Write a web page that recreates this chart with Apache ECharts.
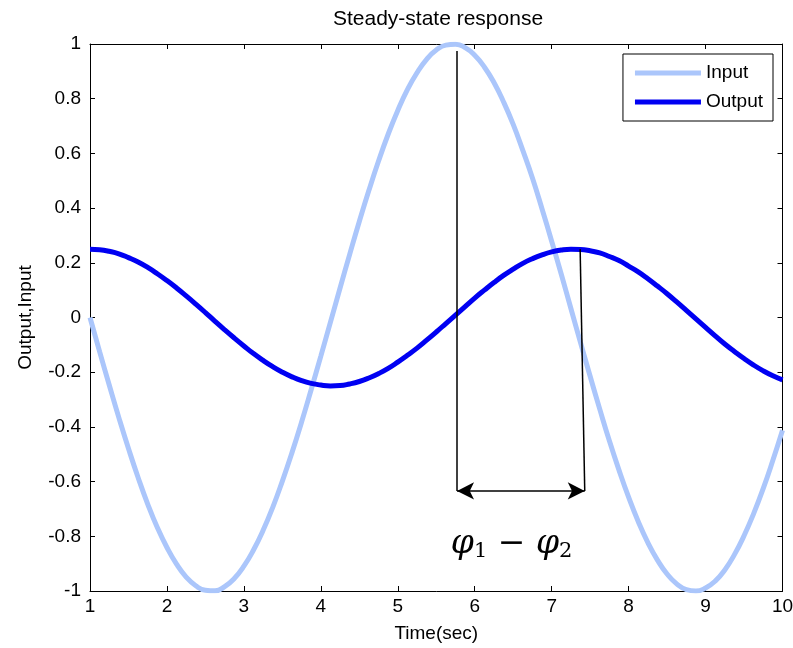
<!DOCTYPE html>
<html>
    <head>
        <meta charset="utf-8" />
        <script src="https://cdn.jsdelivr.net/npm/echarts@6/dist/echarts.min.js"></script>
    </head>
    <body style="margin: 0">
        <style>
            html,
            body,
            #main {
                width: 793px;
                height: 648px;
                background: #fff;
            }
        </style>
        <div id="main"></div>
        <script>
            // time samples (sec)
            var times = [
                1, 1.125, 1.25, 1.375, 1.5, 1.625, 1.75, 1.875,
                2, 2.125, 2.25, 2.375, 2.5, 2.625, 2.75, 2.875,
                3, 3.125, 3.25, 3.375, 3.5, 3.625, 3.75, 3.875,
                4, 4.125, 4.25, 4.375, 4.5, 4.625, 4.75, 4.875,
                5, 5.125, 5.25, 5.375, 5.5, 5.625, 5.75, 5.875,
                6, 6.125, 6.25, 6.375, 6.5, 6.625, 6.75, 6.875,
                7, 7.125, 7.25, 7.375, 7.5, 7.625, 7.75, 7.875,
                8, 8.125, 8.25, 8.375, 8.5, 8.625, 8.75, 8.875,
                9, 9.125, 9.25, 9.375, 9.5, 9.625, 9.75, 9.875, 10
            ];
            var inputValues = [
                0, -0.125, -0.247, -0.366, -0.479, -0.585, -0.682, -0.768,
                -0.841, -0.902, -0.949, -0.981, -0.997, -0.999, -0.984, -0.954,
                -0.909, -0.85, -0.778, -0.694, -0.598, -0.494, -0.382, -0.263,
                -0.141, -0.017, 0.108, 0.231, 0.351, 0.465, 0.572, 0.67,
                0.757, 0.833, 0.895, 0.944, 0.978, 0.996, 0.999, 0.987,
                0.959, 0.916, 0.859, 0.788, 0.706, 0.611, 0.51, 0.397,
                0.279, 0.158, 0.033, -0.092, -0.215, -0.335, -0.451, -0.558,
                -0.657, -0.746, -0.823, -0.887, -0.938, -0.974, -0.995, -1.0,
                -0.989, -0.964, -0.923, -0.867, -0.798, -0.717, -0.625, -0.522, -0.412
            ];
            var outputValues = [
                0.25, 0.248, 0.242, 0.233, 0.219, 0.203, 0.183, 0.16,
                0.135, 0.108, 0.079, 0.049, 0.018, -0.014, -0.045, -0.075,
                -0.104, -0.132, -0.157, -0.18, -0.2, -0.217, -0.231, -0.241,
                -0.247, -0.25, -0.249, -0.243, -0.234, -0.221, -0.205, -0.186,
                -0.163, -0.138, -0.112, -0.083, -0.053, -0.022, 0.009, 0.04,
                0.071, 0.1, 0.128, 0.154, 0.177, 0.198, 0.215, 0.229,
                0.24, 0.247, 0.25, 0.249, 0.244, 0.236, 0.223, 0.208,
                0.188, 0.167, 0.142, 0.115, 0.087, 0.057, 0.026, -0.005,
                -0.036, -0.067, -0.097, -0.124, -0.15, -0.174, -0.195, -0.213, -0.228
            ];
            // phase annotation (data coords)
            var phaseStart = [5.77, 0.974];
            var phaseEnd = [7.37, 0.25];
            var arrowY = -0.634;
            var arrowX = [5.77, 7.43];
            var phaseText = [6.48, -0.83];

            function pairs(xs, ys) {
                var out = [];
                for (var i = 0; i < xs.length; i++) {
                    out.push([xs[i], ys[i]]);
                }
                return out;
            }

            var font = "'Liberation Sans', Arial, sans-serif";
            var fontSize = 19;
            var chart = echarts.init(document.getElementById("main"));

            var axisCommon = {
                type: "value",
                axisLine: { show: true, onZero: false, lineStyle: { color: "#000", width: 1 } },
                axisTick: { show: true, inside: true, length: 5, lineStyle: { color: "#000" } },
                splitLine: { show: false }
            };

            chart.setOption({
                animation: false,
                backgroundColor: "#fff",
                textStyle: { fontFamily: font },
                title: {
                    text: "Steady-state response",
                    left: 433,
                    textAlign: "center",
                    top: 4,
                    textStyle: { fontFamily: font, fontSize: 21, fontWeight: "normal", color: "#000" }
                },
                legend: {
                    orient: "vertical",
                    right: 20,
                    top: 54,
                    padding: [8, 10, 8, 12],
                    itemGap: 7,
                    itemWidth: 66,
                    itemHeight: 5,
                    borderColor: "#000",
                    borderWidth: 1,
                    borderRadius: 0,
                    backgroundColor: "#fff",
                    data: [
                        { name: "Input", icon: "rect" },
                        { name: "Output", icon: "rect" }
                    ],
                    textStyle: { fontFamily: font, fontSize: fontSize, lineHeight: 22, color: "#000", padding: [0, 0, 0, 0] }
                },
                grid: { left: 90, right: 10.5, top: 44, bottom: 57, outerBoundsMode: "none" },
                xAxis: [
                    Object.assign({}, axisCommon, {
                        min: 1,
                        max: 10,
                        interval: 1,
                        name: "Time(sec)",
                        nameLocation: "middle",
                        nameGap: 33,
                        nameTextStyle: { fontFamily: font, fontSize: fontSize, color: "#000" },
                        axisLabel: { fontFamily: font, fontSize: fontSize, color: "#000", margin: 6 }
                    }),
                    Object.assign({}, axisCommon, {
                        position: "top",
                        min: 1,
                        max: 10,
                        interval: 1,
                        axisLabel: { show: false }
                    })
                ],
                yAxis: [
                    Object.assign({}, axisCommon, {
                        min: -1,
                        max: 1,
                        interval: 0.2,
                        name: "Output,Input",
                        nameLocation: "middle",
                        nameGap: 55,
                        nameTextStyle: { fontFamily: font, fontSize: fontSize, color: "#000" },
                        axisLabel: {
                            fontFamily: font,
                            fontSize: fontSize,
                            color: "#000",
                            margin: 9,
                            formatter: function (v) {
                                return String(Math.round(v * 10) / 10);
                            }
                        }
                    }),
                    Object.assign({}, axisCommon, {
                        position: "right",
                        min: -1,
                        max: 1,
                        interval: 0.2,
                        axisLabel: { show: false }
                    })
                ],
                series: [
                    {
                        name: "Input",
                        type: "line",
                        data: pairs(times, inputValues),
                        smooth: true,
                        showSymbol: false,
                        lineStyle: { color: "#abc6fb", width: 5 },
                        itemStyle: { color: "#abc6fb" },
                        z: 2
                    },
                    {
                        name: "Output",
                        type: "line",
                        data: pairs(times, outputValues),
                        smooth: true,
                        showSymbol: false,
                        lineStyle: { color: "#0000f2", width: 5 },
                        itemStyle: { color: "#0000f2" },
                        z: 3,
                        markLine: {
                            silent: true,
                            symbol: ["none", "none"],
                            label: { show: false },
                            lineStyle: { color: "#000", width: 1.5, type: "solid" },
                            data: [
                                [
                                    { coord: phaseStart },
                                    { coord: [phaseStart[0], arrowY] }
                                ],
                                [
                                    { coord: phaseEnd },
                                    { coord: [arrowX[1], arrowY] }
                                ],
                                [
                                    { coord: [arrowX[0], arrowY], symbol: "arrow", symbolSize: [13, 17] },
                                    { coord: [arrowX[1], arrowY], symbol: "arrow", symbolSize: [13, 17] }
                                ]
                            ]
                        },
                        markPoint: {
                            silent: true,
                            symbol: "circle",
                            symbolSize: 0,
                            data: [
                                {
                                    coord: phaseText,
                                    label: {
                                        show: true,
                                        position: "inside",
                                        formatter: "{a|φ}{s|1}{a| − φ}{s|2}",
                                        rich: {
                                            a: {
                                                fontFamily: "'DejaVu Serif', serif",
                                                fontStyle: "italic",
                                                fontSize: 33,
                                                color: "#000"
                                            },
                                            s: {
                                                fontFamily: "'DejaVu Serif', serif",
                                                fontSize: 21,
                                                color: "#000",
                                                verticalAlign: "bottom",
                                                padding: [14, 0, 0, 0]
                                            }
                                        }
                                    }
                                }
                            ]
                        }
                    }
                ]
            });
        </script>
    </body>
</html>
